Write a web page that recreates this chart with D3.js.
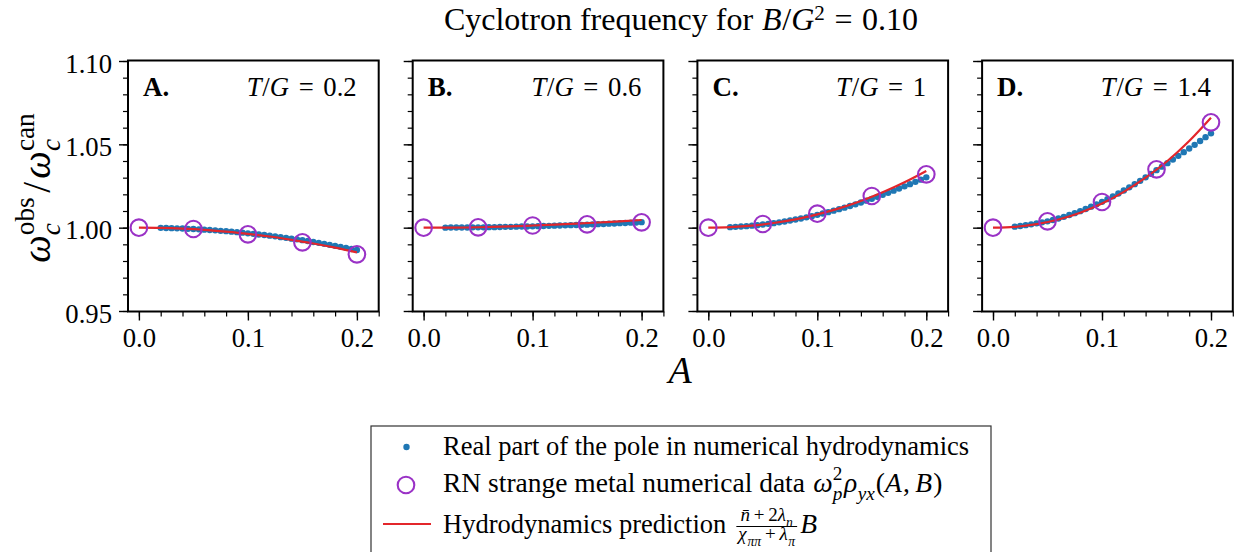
<!DOCTYPE html>
<html><head><meta charset="utf-8">
<script src="https://cdn.jsdelivr.net/npm/d3@7"></script>
<style>body{margin:0;background:#fff} svg{display:block} text{white-space:pre}</style>
</head><body><svg id="c" width="1235" height="552"></svg>
<script>
// ---------------- data ----------------
const panelNames = ["A.", "B.", "C.", "D."];
const tempLabels = ["0.2", "0.6", "1", "1.4"];
const xTickValues = [0, 0.1, 0.2];
const yTickValues = [0.95, 1.00, 1.05, 1.10];

// A values of the blue pole points
const poleA = [0.02,0.025,0.03,0.035,0.04,0.045,0.05,0.055,0.06,0.065,0.07,0.075,0.08,0.085,0.09,0.095,0.1,
  0.105,0.11,0.115,0.12,0.125,0.13,0.135,0.14,0.145,0.15,0.155,0.16,0.165,0.17,0.175,0.18,0.185,0.19,0.195,0.2];
const pole_T02 = [0.9999,0.9998,0.9997,0.9996,0.9995,0.9993,0.9992,0.9990,0.9988,0.9986,0.9984,0.9981,0.9979,0.9976,0.9973,0.9970,0.9966,
  0.9963,0.9959,0.9956,0.9952,0.9948,0.9943,0.9939,0.9934,0.9930,0.9925,0.9920,0.9914,0.9909,0.9903,0.9897,0.9891,0.9885,0.9879,0.9872,0.9866];
const pole_T06 = [1.0000,1.0001,1.0001,1.0001,1.0001,1.0002,1.0002,1.0002,1.0003,1.0003,1.0004,1.0005,1.0005,1.0006,1.0007,1.0007,1.0008,
  1.0009,1.0010,1.0011,1.0012,1.0013,1.0014,1.0015,1.0016,1.0017,1.0018,1.0020,1.0021,1.0022,1.0024,1.0025,1.0027,1.0028,1.0030,1.0031,1.0033];
const pole_T10 = [1.0003,1.0005,1.0007,1.0009,1.0012,1.0015,1.0019,1.0023,1.0027,1.0032,1.0037,1.0043,1.0049,1.0055,1.0062,1.0069,1.0077,
  1.0085,1.0093,1.0102,1.0111,1.0120,1.0130,1.0140,1.0151,1.0162,1.0173,1.0185,1.0197,1.0209,1.0222,1.0235,1.0248,1.0261,1.0275,1.0288,1.0302];
const pole_T14 = [1.0006,1.0010,1.0015,1.0020,1.0026,1.0032,1.0038,1.0046,1.0055,1.0065,1.0076,1.0087,1.0099,1.0112,1.0126,1.0140,1.0155,
  1.0171,1.0188,1.0205,1.0223,1.0242,1.0261,1.0281,1.0302,1.0323,1.0345,1.0366,1.0387,1.0409,1.0431,1.0453,1.0475,1.0497,1.0520,1.0543,1.0566];

// RN strange metal circles
const circleA = [0, 0.05, 0.1, 0.15, 0.2];
const circ_T02 = [1.0000, 0.9992, 0.9960, 0.9912, 0.9840];
const circ_T06 = [1.0000, 1.0002, 1.0013, 1.0020, 1.0032];
const circ_T10 = [1.0000, 1.0022, 1.0084, 1.0190, 1.0320];
const circ_T14 = [1.0000, 1.0038, 1.0154, 1.0350, 1.0632];

// hydrodynamics prediction (red line)
const lineA = [0, 0.02, 0.04, 0.06, 0.08, 0.1, 0.12, 0.14, 0.16, 0.18, 0.2];
const pred_T02 = [1.0000, 0.99985, 0.9994, 0.9987, 0.9976, 0.9963, 0.9947, 0.9927, 0.9905, 0.9880, 0.9852];
const pred_T06 = [1.0000, 1.0000, 1.0001, 1.0004, 1.0008, 1.0013, 1.0018, 1.0024, 1.0031, 1.0038, 1.0046];
const pred_T10 = [1.0000, 1.0003, 1.0012, 1.0028, 1.0050, 1.0080, 1.0116, 1.0160, 1.0212, 1.0272, 1.0340];
const pred_T14 = [1.0000, 1.0005, 1.0021, 1.0049, 1.0090, 1.0145, 1.0215, 1.0300, 1.0400, 1.0520, 1.0660];

const poleSeries = [pole_T02, pole_T06, pole_T10, pole_T14];
const circSeries = [circ_T02, circ_T06, circ_T10, circ_T14];
const predSeries = [pred_T02, pred_T06, pred_T10, pred_T14];

// ---------------- drawing ----------------
const FONT = "'Liberation Serif','Times New Roman',serif";
const BLUE = "#1f77b4", PURPLE = "#9a32c6", RED = "#e3262b";
const svg = d3.select("#c");

function mathRow(g, x, y, parts, size, anchor) {
  const grp = g.append("g");
  let cur = 0, stackStart = null, stackMax = 0;
  parts.forEach(p => {
    const fs = size * (p.s || 1);
    if (p.dx) cur += p.dx * size;
    const el = grp.append("text").text(p.t)
      .attr("font-family", FONT).attr("font-size", fs)
      .attr("font-style", p.it ? "italic" : "normal")
      .attr("font-weight", p.bold ? "bold" : "normal")
      .attr("fill", "#000");
    if (p.w) el.attr("textLength", p.w).attr("lengthAdjust", "spacingAndGlyphs");
    const w = p.w || el.node().getComputedTextLength();
    let px;
    if (p.stack) {
      if (stackStart === null) { stackStart = cur; stackMax = 0; }
      px = stackStart; stackMax = Math.max(stackMax, w); cur = stackStart + stackMax;
    } else { stackStart = null; px = cur; cur += w; }
    el.attr("x", px).attr("y", (p.dy || 0) * size);
  });
  const off = anchor === "middle" ? -cur / 2 : anchor === "end" ? -cur : 0;
  grp.attr("transform", `translate(${x + off},${y})`);
  return cur;
}

const panelLeft0 = 128, panelStep = 284.7, panelW = 250.7;
const plotTop = 60.5, plotBottom = 311.5;
const y = d3.scaleLinear().domain([0.95, 1.10]).range([311, 61]);
const yMinor = d3.range(95, 111, 1).map(v => v / 100);
const xMinor = d3.range(0, 12, 1).map(v => v * 0.02);

for (let i = 0; i < 4; i++) {
  const x0 = panelLeft0 + i * panelStep;
  const x = d3.scaleLinear().domain([-0.01, 0.22]).range([x0, x0 + panelW]);
  const g = svg.append("g");

  // x axis ticks
  const xa = g.append("g").attr("transform", `translate(0,${plotBottom})`)
    .call(d3.axisBottom(x).tickValues(xTickValues).tickSize(9).tickFormat(d3.format(".1f")));
  xa.select(".domain").remove();
  xa.selectAll("line").attr("stroke", "#000").attr("stroke-width", 1.4);
  xa.selectAll("text").attr("font-family", FONT).attr("font-size", 26.7).attr("fill", "#000")
    .attr("y", 35).attr("dy", 0);
  const xm = g.append("g").attr("transform", `translate(0,${plotBottom})`)
    .call(d3.axisBottom(x).tickValues(xMinor).tickSize(5).tickFormat(""));
  xm.select(".domain").remove();
  xm.selectAll("line").attr("stroke", "#000").attr("stroke-width", 1.2);

  // y axis ticks
  const ya = g.append("g").attr("transform", `translate(${x0},0)`)
    .call(d3.axisLeft(y).tickValues(yTickValues).tickSize(9).tickFormat(i === 0 ? d3.format(".2f") : ""));
  ya.select(".domain").remove();
  ya.selectAll("line").attr("stroke", "#000").attr("stroke-width", 1.4);
  ya.selectAll("text").attr("font-family", FONT).attr("font-size", 26.7).attr("fill", "#000")
    .attr("x", -16).attr("dy", 11);
  const ym = g.append("g").attr("transform", `translate(${x0},0)`)
    .call(d3.axisLeft(y).tickValues(yMinor).tickSize(5).tickFormat(""));
  ym.select(".domain").remove();
  ym.selectAll("line").attr("stroke", "#000").attr("stroke-width", 1.2);

  const plot = g.append("g");
  // blue dots
  plot.selectAll("circle.pole").data(poleA.map((a, k) => [a, poleSeries[i][k]])).enter()
    .append("circle").attr("class", "pole")
    .attr("cx", d => x(d[0])).attr("cy", d => y(d[1])).attr("r", 3.2).attr("fill", BLUE);
  // red line
  plot.append("path").datum(lineA.map((a, k) => [a, predSeries[i][k]]))
    .attr("d", d3.line().x(d => x(d[0])).y(d => y(d[1])).curve(d3.curveMonotoneX))
    .attr("fill", "none").attr("stroke", RED).attr("stroke-width", 2.2);
  // circles
  plot.selectAll("circle.rn").data(circleA.map((a, k) => [a, circSeries[i][k]])).enter()
    .append("circle").attr("class", "rn")
    .attr("cx", d => x(d[0])).attr("cy", d => y(d[1])).attr("r", 8.3)
    .attr("fill", "none").attr("stroke", PURPLE).attr("stroke-width", 2.1);

  // frame
  g.append("rect").attr("x", x0).attr("y", plotTop).attr("width", panelW).attr("height", plotBottom - plotTop)
    .attr("fill", "none").attr("stroke", "#000").attr("stroke-width", 2);

  // panel labels
  g.append("text").attr("x", x0 + 15).attr("y", 96).text(panelNames[i])
    .attr("font-family", FONT).attr("font-weight", "bold").attr("font-size", 27);
  mathRow(g, x0 + panelW - 22, 96, [
    {t: "T", it: true}, {t: "/", dx: 0.03}, {t: "G", it: true},
    {t: "=", dx: 0.36}, {t: tempLabels[i], dx: 0.36}
  ], 26.7, "end");
}

// title
mathRow(svg, 681, 30, [
  {t: "Cyclotron frequency for"}, {t: "B", it: true, dx: 0.28}, {t: "/", dx: 0.02}, {t: "G", it: true},
  {t: "2", s: 0.66, dy: -0.3}, {t: "=", dx: 0.3}, {t: "0.10", dx: 0.3}
], 32, "middle");

// y label
const yl = svg.append("g").attr("transform", "translate(50,188) rotate(-90)");
mathRow(yl, 0, 0, [
  {t: "ω", it: true}, {t: "obs", s: 0.7, dy: -0.42, stack: true}, {t: "c", it: true, s: 0.7, dy: 0.25, stack: true},
  {t: "/", dx: 0.12}, {t: "ω", it: true, dx: 0.08},
  {t: "can", s: 0.7, dy: -0.42, stack: true}, {t: "c", it: true, s: 0.7, dy: 0.25, stack: true}
], 39, "middle");

// x label
svg.append("text").attr("x", 680).attr("y", 383).attr("text-anchor", "middle")
  .attr("font-family", FONT).attr("font-style", "italic").attr("font-size", 38).text("A");

// legend
const lg = svg.append("g");
lg.append("rect").attr("x", 371).attr("y", 426).attr("width", 620).attr("height", 160)
  .attr("fill", "#fff").attr("stroke", "#333").attr("stroke-width", 1.2);
lg.append("circle").attr("cx", 406.5).attr("cy", 447).attr("r", 3.2).attr("fill", BLUE);
lg.append("circle").attr("cx", 406).attr("cy", 485).attr("r", 8.3).attr("fill", "none")
  .attr("stroke", PURPLE).attr("stroke-width", 2.1);
lg.append("line").attr("x1", 383).attr("x2", 431).attr("y1", 524).attr("y2", 524)
  .attr("stroke", RED).attr("stroke-width", 2.2);
const LS = 26.5;
mathRow(lg, 443, 455, [{t: "Real part of the pole in numerical hydrodynamics"}], LS, "start");
mathRow(lg, 443, 492, [
  {t: "RN strange metal numerical data"},
  {t: "ω", it: true, dx: 0.3},
  {t: "2", s: 0.7, dy: -0.42, stack: true}, {t: "p", it: true, s: 0.7, dy: 0.28, stack: true},
  {t: "ρ", it: true, dx: 0.06}, {t: "yx", it: true, s: 0.7, dy: 0.28, dx: 0.02},
  {t: "(", dx: 0.04}, {t: "A", it: true}, {t: ",", dx: 0.04}, {t: "B", it: true, dx: 0.2}, {t: ")", dx: 0.04}
], 27.5, "start");
const w3 = mathRow(lg, 443, 533, [{t: "Hydrodynamics prediction"}], LS, "start");
// fraction
const fx = 443 + w3 + 10;
const FS = 19;
const numParts = [
  {t: "n\u0304", it: true}, {t: "+", dx: 0.2}, {t: "2", dx: 0.2}, {t: "λ", it: true}, {t: "n", it: true, s: 0.72, dy: 0.3}
];
const denParts = [
  {t: "χ", it: true}, {t: "ππ", it: true, s: 0.72, dy: 0.3, dx: 0.04}, {t: "+", dx: 0.2}, {t: "λ", it: true, dx: 0.2}, {t: "π", it: true, s: 0.72, dy: 0.3, dx: 0.03}
];
const tmp = lg.append("g");
const numW = mathRow(tmp, 0, -1000, numParts, FS, "start");
const denW = mathRow(tmp, 0, -1000, denParts, FS, "start");
tmp.remove();
const fw = Math.max(numW, denW) + 4;
mathRow(lg, fx + fw / 2, 521, numParts, FS, "middle");
lg.append("line").attr("x1", fx).attr("x2", fx + fw).attr("y1", 526.5).attr("y2", 526.5)
  .attr("stroke", "#000").attr("stroke-width", 1.1);
mathRow(lg, fx + fw / 2, 540, denParts, FS, "middle");
mathRow(lg, fx + fw + 3, 533, [{t: "B", it: true}], 27.5, "start");
</script></body></html>
